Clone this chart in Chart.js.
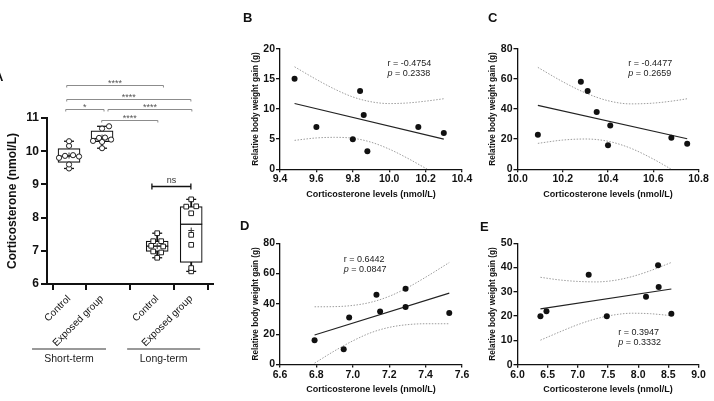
<!DOCTYPE html>
<html><head><meta charset="utf-8">
<script src="https://cdn.jsdelivr.net/npm/chart.js@4.4.1/dist/chart.umd.min.js"></script>
<style>
html,body{margin:0;padding:0;background:#fff;}
body{width:714px;height:401px;position:relative;overflow:hidden;font-family:"Liberation Sans",Arial,sans-serif;}
canvas{position:absolute;}
.lbl{position:absolute;font-weight:bold;font-size:13px;color:#111;line-height:13px;}
</style></head><body>
<canvas id="cA" width="238" height="385" style="left:0;top:0"></canvas>
<canvas id="cB" width="240" height="185" style="left:240px;top:20px"></canvas>
<canvas id="cC" width="237" height="185" style="left:477px;top:20px"></canvas>
<canvas id="cD" width="240" height="185" style="left:240px;top:215px"></canvas>
<canvas id="cE" width="237" height="185" style="left:477px;top:215px"></canvas>
<div class="lbl" style="left:-6px;top:70px">A</div>
<div class="lbl" style="left:243px;top:11px">B</div>
<div class="lbl" style="left:488px;top:11px">C</div>
<div class="lbl" style="left:240px;top:219px">D</div>
<div class="lbl" style="left:480px;top:220px">E</div>
<script>
// ---------- DATA ----------
const categories = ['Control', 'Exposed group', 'Control', 'Exposed group'];
const groupNames = ['Short-term', 'Long-term'];
const corticoTicks = [6, 7, 8, 9, 10, 11];

const corticoShortCtrl = [9.48, 9.60, 9.80, 9.84, 9.86, 9.88, 10.16, 10.30];
const corticoShortExp  = [10.09, 10.28, 10.31, 10.35, 10.40, 10.41, 10.68, 10.75];
const corticoLongCtrl  = [6.79, 6.95, 6.98, 7.13, 7.15, 7.29, 7.29, 7.53];
const corticoLongExp   = [6.38, 6.48, 7.18, 7.48, 8.13, 8.33, 8.34, 8.55];

const boxMin    = [9.48, 10.09, 6.79, 6.38];
const boxQ1     = [9.66, 10.29, 6.98, 6.65];
const boxMedian = [9.85, 10.38, 7.14, 7.80];
const boxQ3     = [10.08, 10.61, 7.29, 8.33];
const boxMax    = [10.30, 10.75, 7.53, 8.55];
const boxMean   = [9.87, 10.41, 7.14, 7.61];

const sigLabels = ['****', '****', '*', '****', '****', 'ns'];
const sigLevels = [11.98, 11.58, 11.27, 11.27, 10.94, 8.95];

const gainShortCtrl = [15, 7, 5, 13, 9, 3, 7, 6];
const gainShortExp  = [23, 58, 52, 38, 16, 29, 21, 17];
const gainLongCtrl  = [16, 10, 31, 46, 35, 50, 38, 34];
const gainLongExp   = [20, 22, 37, 20, 28, 41, 32, 21];

const rValues = ['-0.4754', '-0.4477', '0.6442', '0.3947'];
const pValues = ['0.2338', '0.2659', '0.0847', '0.3332'];

// regression line ends (x, y)
const fitXB = [9.48, 10.30],  fitYB = [10.9, 5.0];
const fitXC = [10.09, 10.75], fitYC = [42.4, 20.3];
const fitXD = [6.79, 7.53],   fitYD = [19.5, 47.1];
const fitXE = [6.38, 8.55],   fitYE = [23.0, 31.2];

// 95% confidence band
const ciUpXB = [9.48, 9.6, 9.7, 9.8, 9.9, 10.0, 10.1, 10.2, 10.3];
const ciUpYB = [17.0, 14.9, 13.3, 12.0, 11.2, 10.9, 11.0, 11.3, 11.7];
const ciLoXB = [9.48, 9.6, 9.7, 9.8, 9.9, 10.0, 10.1, 10.21];
const ciLoYB = [4.8, 5.2, 5.3, 5.15, 4.5, 3.35, 1.85, 0];

const ciUpXC = [10.09, 10.2, 10.3, 10.4, 10.5, 10.6, 10.7, 10.75];
const ciUpYC = [67.6, 58.1, 50.7, 45.5, 43.4, 43.9, 45.6, 46.8];
const ciLoXC = [10.09, 10.2, 10.3, 10.4, 10.5, 10.6, 10.68];
const ciLoYC = [17.2, 19.4, 20.1, 18.6, 14.0, 6.8, 0];

const ciUpXD = [6.79, 6.9, 7.0, 7.1, 7.2, 7.3, 7.4, 7.53];
const ciUpYD = [38.1, 38.2, 39.0, 41.1, 45.0, 50.7, 57.6, 67.3];
const ciLoXD = [6.79, 6.9, 7.0, 7.1, 7.2, 7.3, 7.4, 7.53];
const ciLoYD = [0.9, 9.0, 15.6, 21.0, 24.5, 26.3, 26.9, 26.9];

const ciUpXE = [6.38, 6.7, 7.0, 7.3, 7.6, 7.9, 8.2, 8.55];
const ciUpYE = [36.0, 34.9, 34.3, 34.1, 34.7, 36.3, 38.7, 42.1];
const ciLoXE = [6.38, 6.7, 7.0, 7.3, 7.6, 7.9, 8.2, 8.55];
const ciLoYE = [10.1, 13.5, 16.5, 18.9, 20.5, 21.2, 21.0, 20.2];

const xTicksB = [9.4, 9.6, 9.8, 10.0, 10.2, 10.4],   xLabelsB = ['9.4','9.6','9.8','10.0','10.2','10.4'];
const xTicksC = [10.0, 10.2, 10.4, 10.6, 10.8],      xLabelsC = ['10.0','10.2','10.4','10.6','10.8'];
const xTicksD = [6.6, 6.8, 7.0, 7.2, 7.4, 7.6],      xLabelsD = ['6.6','6.8','7.0','7.2','7.4','7.6'];
const xTicksE = [6.0, 6.5, 7.0, 7.5, 8.0, 8.5, 9.0], xLabelsE = ['6.0','6.5','7.0','7.5','8.0','8.5','9.0'];
const yTicksB = [0, 5, 10, 15, 20];
const yTicksC = [0, 20, 40, 60, 80];
const yTicksD = [0, 20, 40, 60, 80];
const yTicksE = [0, 10, 20, 30, 40, 50];

// ---------- LAYOUT / STYLE ----------
const FONT = '"Liberation Sans", Arial, sans-serif';
Chart.defaults.font.family = FONT;
Chart.defaults.color = '#111';
const INK = '#111';
const catPos = [1, 2, 3.67, 4.7];
const unitPx = 33;
const jitterPx = [
  [0, 0, -10, 10, -4, 4, 0, 0],
  [0, 0, -9, 9, -3, 3, 0, 7],
  [0, 4, -4, 6, -6, -4, 4, 0],
  [0, 0, 0, 0, 0, -5, 5, 0]
];
const bracketSpan = [[0.93, 3.86], [0.93, 4.69], [0.90, 2.06], [2.18, 4.72], [1.99, 3.69], [3.51, 4.69]];
const groupSpan = [[-0.12, 2.12], [2.76, 4.97]];

// ---------- PANEL A ----------
const groupsCortico = [corticoShortCtrl, corticoShortExp, corticoLongCtrl, corticoLongExp];

const boxExtras = {
  id: 'boxExtras',
  afterDraw(chart) {
    const {ctx, scales: {x, y}} = chart;
    ctx.save();
    sigLabels.forEach((lab, i) => {
      const x1 = x.getPixelForValue(bracketSpan[i][0]);
      const x2 = x.getPixelForValue(bracketSpan[i][1]);
      const py = Math.round(y.getPixelForValue(sigLevels[i])) + 0.5;
      const isNs = lab === 'ns';
      ctx.strokeStyle = isNs ? '#111' : '#8c8c8c';
      ctx.lineWidth = isNs ? 1.3 : 1;
      ctx.beginPath();
      ctx.moveTo(x1, py); ctx.lineTo(x2, py);
      if (isNs) {
        ctx.moveTo(x1, py - 3); ctx.lineTo(x1, py + 3);
        ctx.moveTo(x2, py - 3); ctx.lineTo(x2, py + 3);
      } else {
        ctx.moveTo(x1, py); ctx.lineTo(x1, py + 2);
        ctx.moveTo(x2, py); ctx.lineTo(x2, py + 2);
      }
      ctx.stroke();
      ctx.fillStyle = isNs ? '#333' : '#555';
      ctx.textAlign = 'center';
      ctx.textBaseline = 'alphabetic';
      ctx.font = isNs ? `9px ${FONT}` : `9px ${FONT}`;
      ctx.fillText(lab, (x1 + x2) / 2, isNs ? py - 3.5 : py + 0.5);
    });
    // group lines
    const base = chart.chartArea.bottom;
    groupNames.forEach((g, i) => {
      const x1 = x.getPixelForValue(groupSpan[i][0]);
      const x2 = x.getPixelForValue(groupSpan[i][1]);
      ctx.strokeStyle = '#777';
      ctx.lineWidth = 1.5;
      ctx.beginPath();
      ctx.moveTo(x1, base + 65); ctx.lineTo(x2, base + 65);
      ctx.stroke();
      ctx.fillStyle = '#222';
      ctx.font = `10.5px ${FONT}`;
      ctx.textAlign = 'center';
      ctx.textBaseline = 'alphabetic';
      ctx.fillText(g, (x1 + x2) / 2, base + 77.5);
    });
    ctx.restore();
  }
};

const pointsDatasets = groupsCortico.map((vals, gi) => ({
  type: 'scatter',
  data: vals.map((v, k) => ({x: catPos[gi] + jitterPx[gi][k] / unitPx, y: v})),
  pointStyle: gi < 2 ? 'circle' : 'rect',
  pointRadius: gi < 2 ? 2.6 : 3.3,
  pointBorderWidth: 1,
  borderColor: '#222',
  backgroundColor: '#fff',
  order: 1
}));

new Chart(document.getElementById('cA'), {
  type: 'scatter',
  data: {
    datasets: [
      { type: 'bar', data: catPos.map((p, i) => ({x: p, y: [boxMin[i], boxMax[i]]})),
        barThickness: 1.2, backgroundColor: INK, borderWidth: 0, grouped: false, order: 6 },
      { type: 'bar', data: catPos.map((p, i) => ({x: p, y: [boxQ1[i], boxQ3[i]]})),
        barThickness: 22, backgroundColor: '#fff', borderColor: INK, borderWidth: 1.2,
        borderSkipped: false, grouped: false, order: 5 },
      { type: 'scatter', data: catPos.flatMap((p, i) => [{x: p, y: boxMin[i]}, {x: p, y: boxMax[i]}]),
        pointStyle: 'line', pointRadius: 5, pointBorderWidth: 1.3, borderColor: INK, order: 4 },
      { type: 'scatter', data: catPos.map((p, i) => ({x: p, y: boxMedian[i]})),
        pointStyle: 'line', pointRadius: 11, pointBorderWidth: 1.3, borderColor: INK, order: 4 },
      { type: 'scatter', data: catPos.map((p, i) => ({x: p, y: boxMean[i]})),
        pointStyle: 'cross', pointRadius: 3, pointBorderWidth: 1, borderColor: '#333', order: 3 },
      ...pointsDatasets
    ]
  },
  options: {
    responsive: false, animation: false, events: [],
    plugins: {legend: {display: false}, tooltip: {enabled: false}},
    layout: {padding: {left: 0, top: 118, right: 25, bottom: 0}},
    scales: {
      x: {
        type: 'linear', min: 0.333, max: 5.36, offset: false,
        afterBuildTicks: s => { s.ticks = catPos.map(v => ({value: v})); },
        afterFit: s => { s.height = 101; },
        ticks: {callback: (v, i) => categories[i], minRotation: 45, maxRotation: 45, autoSkip: false,
                font: {size: 10}, padding: 3, color: INK},
        grid: {display: true, drawOnChartArea: false, drawTicks: true, tickLength: 6, lineWidth: 2, color: INK},
        border: {display: true, color: INK, width: 2}
      },
      y: {
        min: 6, max: 11,
        afterBuildTicks: s => { s.ticks = corticoTicks.map(v => ({value: v})); },
        afterFit: s => { s.width = 47; },
        ticks: {font: {size: 12, weight: 'bold'}, padding: 2, color: INK},
        grid: {display: true, drawOnChartArea: false, drawTicks: true, tickLength: 6, lineWidth: 2, color: INK},
        border: {display: true, color: INK, width: 2},
        title: {display: true, text: 'Corticosterone (nmol/L)', font: {size: 12, weight: 'bold'}, color: INK,
                padding: {top: 5, bottom: 0}}
      }
    }
  },
  plugins: [boxExtras]
});

// ---------- PANELS B-E ----------
const statText = {
  id: 'statText',
  afterDatasetsDraw(chart, args, o) {
    const {ctx, scales: {x, y}} = chart;
    const px = x.getPixelForValue(o.x), py = y.getPixelForValue(o.y);
    ctx.save();
    ctx.fillStyle = '#222';
    ctx.textBaseline = 'middle';
    ctx.textAlign = 'left';
    ctx.font = `9px ${FONT}`;
    ctx.fillText('r = ' + o.r, px, py);
    ctx.font = `italic 9px ${FONT}`;
    ctx.fillText('p', px, py + 10);
    const w = ctx.measureText('p').width;
    ctx.font = `9px ${FONT}`;
    ctx.fillText(' = ' + o.p, px + w, py + 10);
    ctx.restore();
  }
};

function pairs(xs, ys) { return xs.map((v, i) => ({x: v, y: ys[i]})); }

function scatterPanel(id, c) {
  new Chart(document.getElementById(id), {
    type: 'scatter',
    data: {
      datasets: [
        { data: pairs(c.px, c.py), pointRadius: 3, pointBorderWidth: 0, backgroundColor: INK, borderColor: INK, order: 1 },
        { type: 'line', data: pairs(c.fx, c.fy), borderColor: '#222', borderWidth: 1.1, pointRadius: 0, order: 2 },
        { type: 'line', data: pairs(c.ux, c.uy), borderColor: '#9d9d9d', borderWidth: 1, borderDash: [1.5, 1.5],
          pointRadius: 0, cubicInterpolationMode: 'monotone', order: 3 },
        { type: 'line', data: pairs(c.lx, c.ly), borderColor: '#9d9d9d', borderWidth: 1, borderDash: [1.5, 1.5],
          pointRadius: 0, cubicInterpolationMode: 'monotone', order: 3 }
      ]
    },
    options: {
      responsive: false, animation: false, events: [],
      plugins: {legend: {display: false}, tooltip: {enabled: false},
                statText: {x: c.sx, y: c.sy, r: c.r, p: c.p}},
      layout: {padding: {left: 0, top: c.top, right: c.right, bottom: 0}},
      scales: {
        x: {
          type: 'linear', min: c.xt[0], max: c.xt[c.xt.length - 1],
          afterBuildTicks: s => { s.ticks = c.xt.map(v => ({value: v})); },
          afterFit: s => { s.height = c.xh; },
          ticks: {callback: (v, i) => c.xl[i], font: {size: 10.5, weight: 'bold'}, padding: 1, color: INK,
                  maxRotation: 0, autoSkip: false},
          grid: {display: true, drawOnChartArea: false, drawTicks: true, tickLength: 3, lineWidth: 1.3, color: INK},
          border: {display: true, color: INK, width: 1.3},
          title: {display: true, text: 'Corticosterone levels (nmol/L)', font: {size: 9, weight: 'bold'},
                  color: INK, padding: {top: 0, bottom: 4.7}}
        },
        y: {
          min: c.yt[0], max: c.yt[c.yt.length - 1],
          afterBuildTicks: s => { s.ticks = c.yt.map(v => ({value: v})); },
          afterFit: s => { s.width = c.yw; },
          ticks: {font: {size: 10.5, weight: 'bold'}, padding: 1, color: INK},
          grid: {display: true, drawOnChartArea: false, drawTicks: true, tickLength: 4, lineWidth: 1.3, color: INK},
          border: {display: true, color: INK, width: 1.3},
          title: {display: true, text: 'Relative body weight gain (g)', font: {size: 8.2, weight: 'bold'},
                  color: INK, padding: {top: 11, bottom: 0}}
        }
      }
    },
    plugins: [statText]
  });
}

scatterPanel('cB', {px: corticoShortCtrl, py: gainShortCtrl, fx: fitXB, fy: fitYB,
  ux: ciUpXB, uy: ciUpYB, lx: ciLoXB, ly: ciLoYB, xt: xTicksB, xl: xLabelsB, yt: yTicksB,
  r: rValues[0], p: pValues[0], sx: 9.99, sy: 17.6, top: 28.7, right: 18, xh: 35.7, yw: 40});
scatterPanel('cC', {px: corticoShortExp, py: gainShortExp, fx: fitXC, fy: fitYC,
  ux: ciUpXC, uy: ciUpYC, lx: ciLoXC, ly: ciLoYC, xt: xTicksC, xl: xLabelsC, yt: yTicksC,
  r: rValues[1], p: pValues[1], sx: 10.49, sy: 70.4, top: 28.7, right: 15.5, xh: 35.7, yw: 40.5});
scatterPanel('cD', {px: corticoLongCtrl, py: gainLongCtrl, fx: fitXD, fy: fitYD,
  ux: ciUpXD, uy: ciUpYD, lx: ciLoXD, ly: ciLoYD, xt: xTicksD, xl: xLabelsD, yt: yTicksD,
  r: rValues[2], p: pValues[2], sx: 6.95, sy: 69, top: 28.3, right: 18, xh: 35.5, yw: 40});
scatterPanel('cE', {px: corticoLongExp, py: gainLongExp, fx: fitXE, fy: fitYE,
  ux: ciUpXE, uy: ciUpYE, lx: ciLoXE, ly: ciLoYE, xt: xTicksE, xl: xLabelsE, yt: yTicksE,
  r: rValues[3], p: pValues[3], sx: 7.67, sy: 13.2, top: 28.3, right: 15.5, xh: 35.3, yw: 40.5});
</script>
</body></html>
